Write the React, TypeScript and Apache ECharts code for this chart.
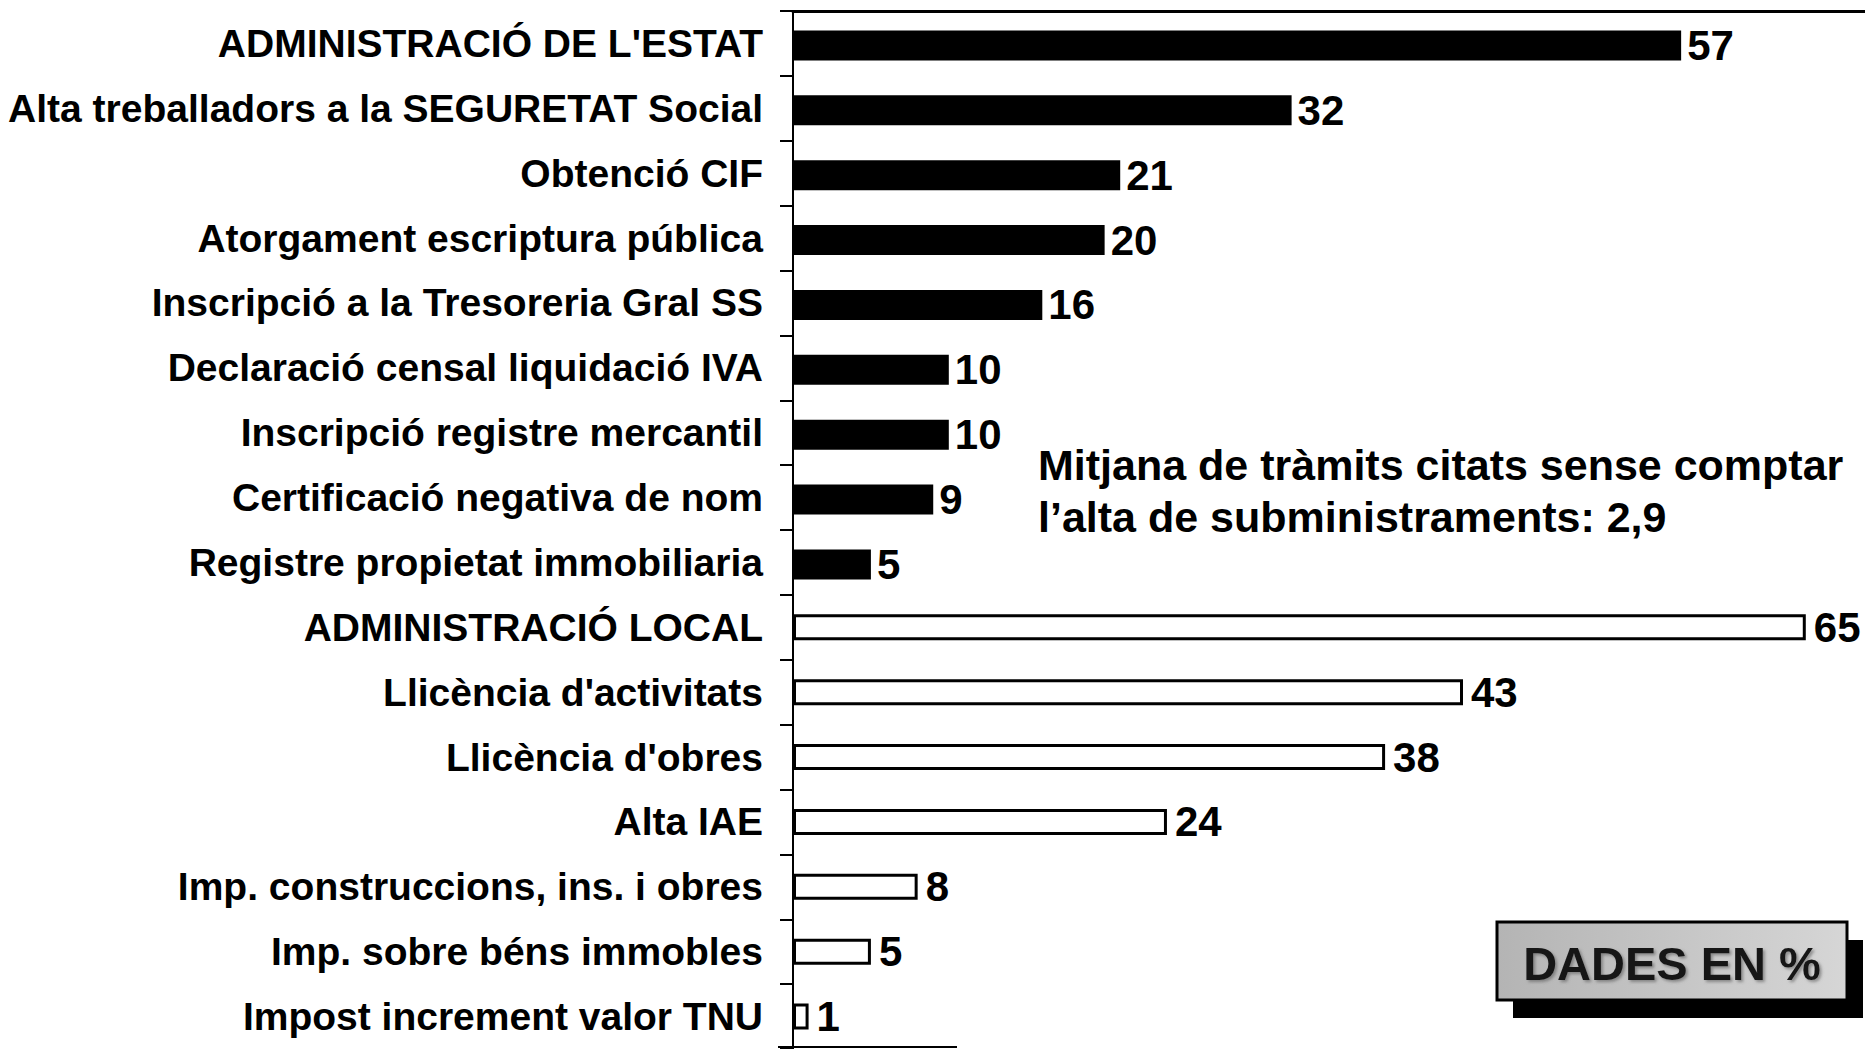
import React, { useEffect, useRef } from "react";
import * as echarts from "echarts";

const estatLabels = [
  "ADMINISTRACIÓ DE L'ESTAT",
  "Alta treballadors a la SEGURETAT Social",
  "Obtenció CIF",
  "Atorgament escriptura pública",
  "Inscripció a la Tresoreria Gral SS",
  "Declaració censal liquidació IVA",
  "Inscripció registre mercantil",
  "Certificació negativa de nom",
  "Registre propietat immobiliaria",
];
const estatValues = [57, 32, 21, 20, 16, 10, 10, 9, 5];

const localLabels = [
  "ADMINISTRACIÓ LOCAL",
  "Llicència d'activitats",
  "Llicència d'obres",
  "Alta IAE",
  "Imp. construccions, ins. i obres",
  "Imp. sobre béns immobles",
  "Impost increment valor TNU",
];
const localValues = [65, 43, 38, 24, 8, 5, 1];

const noteLines = [
  "Mitjana de tràmits citats sense comptar",
  "l’alta de subministraments: 2,9",
];
const badgeText = "DADES EN %";

const FONT = "'Liberation Sans', Arial, Helvetica, sans-serif";

export default function App() {
  const ref = useRef<HTMLDivElement>(null);

  useEffect(() => {
    if (!ref.current) return;
    const chart = echarts.init(ref.current, null, { renderer: "svg" });
    const categories = [...estatLabels, ...localLabels];
    const estatData = [...estatValues, ...localValues.map(() => "-")];
    const localData = [...estatValues.map(() => "-"), ...localValues];

    const labelBase = {
      show: true,
      position: "right",
      color: "#000",
      fontFamily: FONT,
      fontWeight: "bold",
      fontSize: 42,
    };

    chart.setOption({
      animation: false,
      backgroundColor: "#fff",
      grid: { left: 793, top: 11, width: 1072, height: 1040, containLabel: false },
      xAxis: {
        type: "value",
        position: "top",
        min: 0,
        max: 68.8,
        axisLine: { show: true, lineStyle: { color: "#000", width: 3 } },
        axisTick: { show: false },
        axisLabel: { show: false },
        splitLine: { show: false },
      },
      yAxis: {
        type: "category",
        inverse: true,
        data: categories,
        axisLine: { show: true, lineStyle: { color: "#000", width: 2 } },
        axisTick: { show: true, length: 13, lineStyle: { color: "#000", width: 2 } },
        axisLabel: {
          color: "#000",
          fontFamily: FONT,
          fontWeight: "bold",
          fontSize: 39,
          margin: 30,
          padding: [0, 0, 5, 0],
        },
      },
      series: [
        {
          type: "bar",
          data: estatData,
          barWidth: 30,
          barGap: "-100%",
          itemStyle: { color: "#000" },
          label: { ...labelBase, distance: 6 },
        },
        {
          type: "bar",
          data: localData,
          barWidth: 26,
          itemStyle: { color: "#fff", borderColor: "#000", borderWidth: 3 },
          label: { ...labelBase, distance: 8 },
        },
      ],
      graphic: [
        {
          type: "line",
          shape: { x1: 778, y1: 1047, x2: 957, y2: 1047 },
          style: { stroke: "#000", lineWidth: 2 },
        },
        {
          type: "text",
          x: 1038,
          y: 465,
          style: {
            text: noteLines[0],
            font: `bold 43px ${FONT}`,
            fill: "#000",
            textAlign: "left",
            textVerticalAlign: "middle",
          },
        },
        {
          type: "text",
          x: 1038,
          y: 517,
          style: {
            text: noteLines[1],
            font: `bold 43px ${FONT}`,
            fill: "#000",
            textAlign: "left",
            textVerticalAlign: "middle",
          },
        },
        {
          type: "rect",
          shape: { x: 1513, y: 940, width: 350, height: 78 },
          style: { fill: "#000" },
        },
        {
          type: "rect",
          shape: { x: 1497, y: 922, width: 350, height: 78 },
          style: {
            fill: new echarts.graphic.LinearGradient(0, 0, 1, 0, [
              { offset: 0, color: "#b4b4b4" },
              { offset: 1, color: "#d6d6d6" },
            ]),
            stroke: "#000",
            lineWidth: 3,
          },
        },
        {
          type: "text",
          x: 1672,
          y: 963,
          style: {
            text: badgeText,
            font: `bold 47px ${FONT}`,
            fill: "#151515",
            textAlign: "center",
            textVerticalAlign: "middle",
            textShadowColor: "rgba(90,90,90,0.6)",
            textShadowBlur: 3,
            textShadowOffsetX: 2,
            textShadowOffsetY: 2,
          },
        },
      ],
    });

    return () => chart.dispose();
  }, []);

  return (
    <div
      ref={ref}
      style={{ position: "fixed", left: 0, top: 0, width: 1865, height: 1049, background: "#fff" }}
    />
  );
}
